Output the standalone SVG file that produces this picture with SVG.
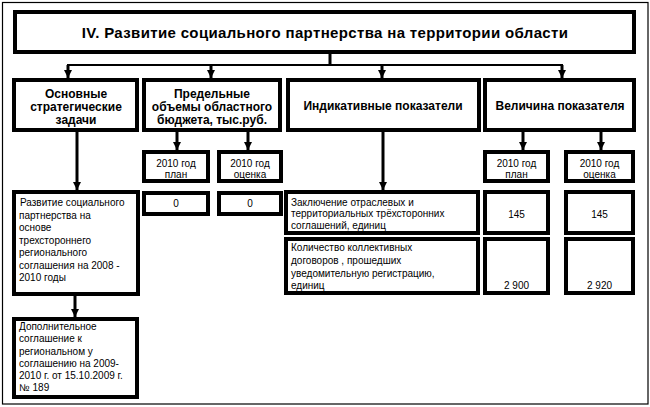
<svg xmlns="http://www.w3.org/2000/svg" width="650" height="407" viewBox="0 0 650 407">
<style>
.box{fill:#fff;stroke:#000;stroke-width:4}
.frame{fill:#fff;stroke:#000;stroke-width:1.2}
.ln{stroke:#000;stroke-width:3;fill:none}
.hl{stroke:#000;stroke-width:2.2;fill:none}
.t{font-family:"Liberation Sans",Arial,sans-serif;font-size:10px;fill:#000}
.c{text-anchor:middle}
.h{font-family:"Liberation Sans",Arial,sans-serif;font-size:12px;font-weight:bold;fill:#000;text-anchor:middle}
.title{font-family:"Liberation Sans",Arial,sans-serif;font-size:15px;font-weight:bold;fill:#000;text-anchor:middle;letter-spacing:0.35px}
</style>
<defs>
<marker id="ah" viewBox="0 0 8 8" refX="8" refY="4" markerWidth="8" markerHeight="8" markerUnits="userSpaceOnUse" orient="auto">
<path d="M0,0 L8,4 L0,8 z" fill="#000"/>
</marker>
</defs>
<rect class="frame" x="2.5" y="2.5" width="645.5" height="401.5"/>
<g id="connectors">
<line class="ln" x1="330" y1="54" x2="330" y2="66"/>
<line class="hl" x1="67" y1="65" x2="563" y2="65"/>
<line class="ln" x1="68" y1="65" x2="68" y2="78" marker-end="url(#ah)"/>
<line class="ln" x1="211" y1="65" x2="211" y2="78" marker-end="url(#ah)"/>
<line class="ln" x1="382" y1="65" x2="382" y2="78" marker-end="url(#ah)"/>
<line class="ln" x1="562" y1="65" x2="562" y2="78" marker-end="url(#ah)"/>
<line class="ln" x1="77" y1="132" x2="77" y2="190" marker-end="url(#ah)"/>
<line class="ln" x1="177" y1="132" x2="177" y2="150" marker-end="url(#ah)"/>
<line class="ln" x1="248" y1="132" x2="248" y2="150" marker-end="url(#ah)"/>
<line class="ln" x1="383" y1="132" x2="383" y2="190" marker-end="url(#ah)"/>
<line class="ln" x1="523" y1="132" x2="523" y2="150" marker-end="url(#ah)"/>
<line class="ln" x1="601" y1="132" x2="601" y2="150" marker-end="url(#ah)"/>
<line class="ln" x1="75" y1="296" x2="75" y2="317" marker-end="url(#ah)"/>
</g>
<g id="title">
<rect class="box" x="15" y="12" width="619" height="40"/>
<text class="title" x="325" y="38">IV. Развитие социального партнерства на территории области</text>
</g>
<g id="tasks">
<rect class="box" x="14" y="80" width="123" height="50"/>
<text class="h" x="76" y="98">Основные</text>
<text class="h" x="76" y="111">стратегические</text>
<text class="h" x="76" y="124">задачи</text>
</g>
<g id="budget">
<rect class="box" x="144" y="80" width="136" height="50"/>
<text class="h" x="212" y="98">Предельные</text>
<text class="h" x="212" y="111">объемы областного</text>
<text class="h" x="212" y="124">бюджета, тыс.руб.</text>
</g>
<g id="indicators">
<rect class="box" x="288" y="80" width="191" height="50"/>
<text class="h" x="383" y="110">Индикативные показатели</text>
</g>
<g id="value">
<rect class="box" x="485" y="80" width="149" height="50"/>
<text class="h" x="560" y="110">Величина показателя</text>
</g>
<g id="budget-plan">
<rect class="box" x="144" y="152" width="64" height="29"/>
<text class="t c" x="176" y="166.5">2010 год</text>
<text class="t c" x="176" y="177.5">план</text>
</g>
<g id="budget-est">
<rect class="box" x="219" y="152" width="62" height="29"/>
<text class="t c" x="250" y="166.5">2010 год</text>
<text class="t c" x="250" y="177.5">оценка</text>
</g>
<g id="value-plan">
<rect class="box" x="485" y="152" width="63" height="29"/>
<text class="t c" x="516.5" y="166.5">2010 год</text>
<text class="t c" x="516.5" y="177.5">план</text>
</g>
<g id="value-est">
<rect class="box" x="566" y="152" width="67" height="29"/>
<text class="t c" x="599.5" y="166.5">2010 год</text>
<text class="t c" x="599.5" y="177.5">оценка</text>
</g>
<g id="budget-plan-val">
<rect class="box" x="144" y="193" width="64" height="21"/>
<text class="t c" x="176" y="207">0</text>
</g>
<g id="budget-est-val">
<rect class="box" x="219" y="193" width="62" height="21"/>
<text class="t c" x="250" y="207">0</text>
</g>
<g id="task-1">
<rect class="box" x="14" y="192" width="124" height="102"/>
<text class="t" x="20" y="206">Развитие социального</text>
<text class="t" x="19" y="218.5">партнерства на</text>
<text class="t" x="19" y="231">основе</text>
<text class="t" x="19" y="243.5">трехстороннего</text>
<text class="t" x="19" y="256">регионального</text>
<text class="t" x="19" y="268.5">соглашения на 2008 -</text>
<text class="t" x="19" y="281">2010 годы</text>
</g>
<g id="task-2">
<rect class="box" x="14" y="319" width="123" height="78"/>
<text class="t" x="19" y="329.5">Дополнительное</text>
<text class="t" x="19" y="342">соглашение к</text>
<text class="t" x="19" y="354.5">региональном у</text>
<text class="t" x="19" y="366.5">соглашению на 2009-</text>
<text class="t" x="19" y="379">2010 г. от 15.10.2009 г.</text>
<text class="t" x="19" y="391">№ 189</text>
</g>
<g id="ind-1">
<rect class="box" x="286" y="192" width="192" height="41"/>
<text class="t" x="291" y="205.5">Заключение отраслевых и</text>
<text class="t" x="291" y="217">территориальных трёхсторонних</text>
<text class="t" x="291" y="228.5">соглашений, единиц</text>
</g>
<g id="ind-2">
<rect class="box" x="286" y="239" width="192" height="54"/>
<text class="t" x="291" y="250.5">Количество коллективных</text>
<text class="t" x="291" y="263.5">договоров , прошедших</text>
<text class="t" x="291" y="276.5">уведомительную регистрацию,</text>
<text class="t" x="291" y="288.5">единиц</text>
</g>
<g id="ind-1-plan">
<rect class="box" x="485" y="192" width="63" height="41"/>
<text class="t c" x="516.5" y="218">145</text>
</g>
<g id="ind-1-est">
<rect class="box" x="566" y="192" width="67" height="41"/>
<text class="t c" x="599.5" y="218">145</text>
</g>
<g id="ind-2-plan">
<rect class="box" x="485" y="239" width="63" height="54"/>
<text class="t c" x="516.5" y="288.5">2 900</text>
</g>
<g id="ind-2-est">
<rect class="box" x="566" y="239" width="67" height="54"/>
<text class="t c" x="599.5" y="288.5">2 920</text>
</g>
</svg>
